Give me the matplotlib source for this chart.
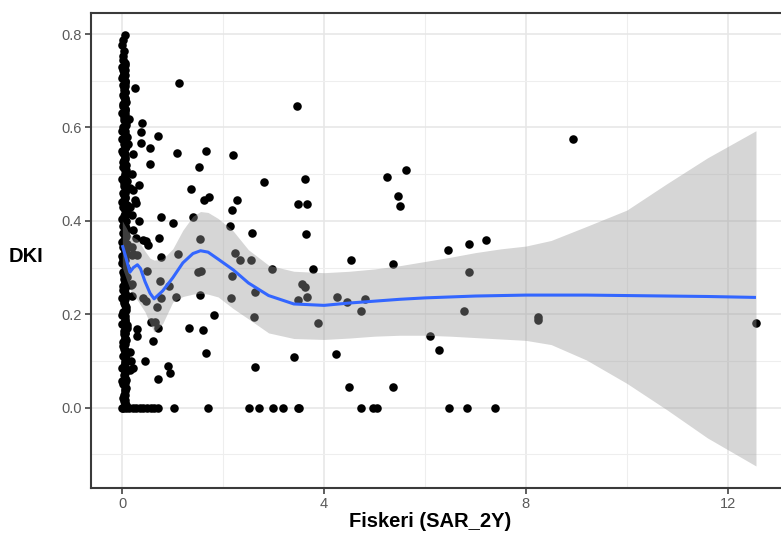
import matplotlib
matplotlib.use("Agg")
import matplotlib.pyplot as plt
from matplotlib.ticker import MultipleLocator

plt.rcParams['font.family'] = ['Liberation Sans', 'DejaVu Sans']

# ---------------- data ----------------
# dense column of observations at Fiskeri ~ 0
col_x = [0.02, 0.06, 0.01, 0.05, 0.02, 0.07, 0.03, 0.00, 0.06, 0.02, 0.08, 0.04, 0.01, 0.06, 0.03,
         0.09, 0.00, 0.05, 0.02, 0.07, 0.03, 0.00, 0.06, 0.02, 0.09, 0.04, 0.01, 0.07, 0.03, 0.00,
         0.06, 0.02, 0.09, 0.04, 0.01, 0.07, 0.03, 0.00, 0.06, 0.02, 0.09, 0.04, 0.01, 0.07, 0.03,
         0.00, 0.06, 0.02, 0.08, 0.04, 0.01, 0.06, 0.03, 0.00, 0.05, 0.02, 0.07, 0.03, 0.00, 0.05,
         0.02, 0.06, 0.01, 0.04, 0.02, 0.05, 0.01, 0.03, 0.00, 0.02, 0.01, 0.03, 0.00, 0.01, 0.05]
col_y = [0.000, 0.010, 0.020, 0.035, 0.050, 0.060, 0.070, 0.085, 0.095, 0.110, 0.115, 0.125, 0.140,
         0.150, 0.165, 0.170, 0.180, 0.190, 0.205, 0.210, 0.225, 0.235, 0.245, 0.260, 0.265, 0.275,
         0.290, 0.300, 0.310, 0.325, 0.335, 0.345, 0.350, 0.360, 0.375, 0.385, 0.395, 0.405, 0.415,
         0.430, 0.435, 0.445, 0.460, 0.470, 0.480, 0.490, 0.500, 0.515, 0.520, 0.530, 0.545, 0.555,
         0.565, 0.575, 0.585, 0.600, 0.605, 0.615, 0.630, 0.640, 0.650, 0.660, 0.670, 0.680, 0.690,
         0.700, 0.710, 0.720, 0.730, 0.745, 0.752, 0.763, 0.776, 0.787, 0.797]
col2_x = [0.07, 0.03, 0.08, 0.00, 0.06, 0.04, 0.08, 0.05, 0.01, 0.07, 0.03, 0.09, 0.05, 0.00, 0.08,
          0.04, 0.07, 0.01, 0.09, 0.04, 0.07, 0.02, 0.09, 0.05, 0.00, 0.08, 0.05, 0.01, 0.08, 0.04,
          0.09, 0.00, 0.06, 0.08, 0.03, 0.10, 0.05, 0.08, 0.02, 0.06, 0.00, 0.08, 0.05, 0.10, 0.00,
          0.08, 0.04, 0.06, 0.01, 0.07, 0.03, 0.06, 0.04, 0.06, 0.00, 0.04, 0.01, 0.06, 0.03, 0.05,
          0.00, 0.04, 0.03, 0.06]
col2_y = [0.005, 0.028, 0.042, 0.056, 0.078, 0.090, 0.104, 0.120, 0.132, 0.145, 0.158, 0.176,
          0.186, 0.198, 0.216, 0.228, 0.240, 0.252, 0.280, 0.284, 0.296, 0.318, 0.330, 0.340,
          0.355, 0.368, 0.380, 0.390, 0.400, 0.410, 0.422, 0.440, 0.452, 0.465, 0.475, 0.486,
          0.495, 0.508, 0.525, 0.537, 0.550, 0.560, 0.570, 0.580, 0.593, 0.612, 0.622, 0.635,
          0.645, 0.655, 0.665, 0.675, 0.686, 0.695, 0.705, 0.715, 0.724, 0.738, 0.015, 0.160,
          0.310, 0.455, 0.590, 0.268]
col3_x = [0.045] * 62
col3_y = [0.004, 0.016, 0.027, 0.040, 0.052, 0.064, 0.075, 0.088, 0.100, 0.112, 0.124, 0.136,
          0.148, 0.160, 0.172, 0.184, 0.196, 0.208, 0.220, 0.232, 0.244, 0.256, 0.268, 0.280,
          0.292, 0.304, 0.316, 0.328, 0.340, 0.352, 0.364, 0.376, 0.388, 0.400, 0.412, 0.424,
          0.436, 0.448, 0.460, 0.472, 0.484, 0.496, 0.508, 0.520, 0.532, 0.544, 0.556, 0.568,
          0.580, 0.592, 0.604, 0.616, 0.628, 0.640, 0.652, 0.664, 0.676, 0.688, 0.700, 0.712,
          0.722, 0.733]

# observations lying on DKI = 0
zero_x = [0.00, 0.07, 0.14, 0.21, 0.28, 0.35, 0.42, 0.49, 0.56, 0.63, 0.70, 1.03, 1.70, 2.51, 2.71,
          2.99, 3.19, 3.48, 3.51, 4.73, 4.96, 5.05, 6.48, 6.84, 7.38]
zero_y = [0.0] * len(zero_x)

# remaining scattered observations
pts_x = [1.13, 0.26, 0.13, 0.40, 0.37, 0.71, 0.12, 0.37, 0.55, 0.21, 1.08, 1.66, 2.20, 0.54, 1.52,
         0.34, 1.36, 1.61, 1.72, 2.28, 2.17, 0.27, 0.76, 1.40, 0.34, 1.01, 2.13, 2.58, 1.54, 0.73,
         0.47, 0.50, 0.27, 2.23, 0.19, 0.29, 0.77, 1.11, 2.33, 2.56, 1.51, 1.56, 0.48, 2.17, 0.75,
         0.19, 0.93, 1.54, 1.06, 0.77, 0.20, 0.42, 0.46, 2.16, 0.69, 1.82, 0.56, 0.65, 0.71, 0.29,
         1.33, 1.59, 0.29, 0.60, 1.66, 0.44, 0.91, 0.95, 0.22, 0.71, 2.63, 2.62, 2.63, 2.97, 3.77,
         3.46, 2.80, 3.62, 3.48, 3.67, 3.65, 4.53, 3.56, 3.62, 3.48, 3.67, 4.26, 4.46, 4.82, 4.73,
         3.87, 3.41, 4.23, 4.50, 5.36, 5.25, 5.62, 5.47, 5.50, 6.46, 6.88, 7.21, 5.36, 6.88, 6.77,
         6.10, 6.28, 8.94, 8.23, 8.23, 12.56,
         0.22, 0.25, 0.15, 0.19, 0.22, 0.42, 0.19, 0.22, 0.17, 0.15, 0.18, 0.15, 0.20, 0.15]
pts_y = [0.696, 0.685, 0.618, 0.610, 0.591, 0.582, 0.565, 0.566, 0.555, 0.543, 0.546, 0.550, 0.540,
         0.522, 0.515, 0.477, 0.468, 0.445, 0.452, 0.444, 0.423, 0.438, 0.408, 0.408, 0.399, 0.396,
         0.389, 0.375, 0.362, 0.363, 0.356, 0.349, 0.363, 0.332, 0.326, 0.327, 0.322, 0.328, 0.316,
         0.316, 0.291, 0.292, 0.292, 0.281, 0.272, 0.264, 0.260, 0.242, 0.236, 0.234, 0.240, 0.234,
         0.228, 0.234, 0.216, 0.198, 0.184, 0.184, 0.170, 0.168, 0.170, 0.166, 0.154, 0.143, 0.116,
         0.100, 0.089, 0.074, 0.085, 0.061, 0.086, 0.195, 0.248, 0.296, 0.296, 0.647, 0.483, 0.489,
         0.437, 0.437, 0.371, 0.316, 0.264, 0.259, 0.231, 0.236, 0.236, 0.227, 0.232, 0.208, 0.182,
         0.108, 0.115, 0.045, 0.045, 0.493, 0.508, 0.454, 0.432, 0.337, 0.350, 0.359, 0.307, 0.291,
         0.208, 0.154, 0.124, 0.575, 0.195, 0.187, 0.181,
         0.466, 0.445, 0.430, 0.413, 0.380, 0.359, 0.345, 0.330, 0.263, 0.080, 0.100, 0.120, 0.500,
         0.470]

# smoother and its confidence band
smooth_x = [0.0, 0.08, 0.15, 0.22, 0.3, 0.36, 0.45, 0.55, 0.63, 0.8, 1.0, 1.2, 1.4, 1.55, 1.7,
            1.9, 2.2, 2.5, 2.9, 3.4, 4.0, 4.5, 5.0, 5.5, 6.0, 6.5, 7.0, 7.5, 8.0, 8.5, 9.2, 10.0,
            10.8, 11.6, 12.56]
smooth_y = [0.348, 0.318, 0.290, 0.300, 0.306, 0.298, 0.270, 0.245, 0.233, 0.250, 0.278, 0.310,
            0.330, 0.336, 0.333, 0.318, 0.295, 0.267, 0.240, 0.222, 0.219, 0.224, 0.228, 0.232,
            0.235, 0.237, 0.239, 0.240, 0.241, 0.241, 0.241, 0.240, 0.239, 0.238, 0.236]
band_hi = [0.400, 0.385, 0.370, 0.365, 0.360, 0.350, 0.335, 0.320, 0.316, 0.318, 0.340, 0.380,
           0.410, 0.420, 0.418, 0.405, 0.378, 0.338, 0.305, 0.292, 0.289, 0.292, 0.297, 0.304,
           0.313, 0.322, 0.332, 0.340, 0.346, 0.358, 0.388, 0.423, 0.480, 0.535, 0.593]
band_lo = [0.300, 0.275, 0.255, 0.240, 0.230, 0.220, 0.205, 0.180, 0.162, 0.180, 0.226, 0.238,
           0.243, 0.245, 0.243, 0.237, 0.212, 0.190, 0.160, 0.148, 0.146, 0.149, 0.153, 0.155,
           0.155, 0.153, 0.150, 0.147, 0.144, 0.135, 0.102, 0.052, -0.005, -0.065, -0.125]

x_ticks = [0, 4, 8, 12]
x_ticklabels = ["0", "4", "8", "12"]
y_ticks = [0.0, 0.2, 0.4, 0.6, 0.8]
y_ticklabels = ["0.0", "0.2", "0.4", "0.6", "0.8"]

# ---------------- figure ----------------
W, H = 781, 533
fig = plt.figure(figsize=(W / 100, H / 100), dpi=100)
fig.patch.set_facecolor("white")
ax = fig.add_axes([91.3 / W, (H - 487.7) / H, (788 - 91.3) / W, (487.7 - 13.3) / H])
ax.set_facecolor("white")

ax.set_xlim(-0.6145, 13.195)
ax.set_ylim(-0.1715, 0.8445)

# grid
ax.set_xticks(x_ticks)
ax.set_xticklabels(x_ticklabels)
ax.set_yticks(y_ticks)
ax.set_yticklabels(y_ticklabels)
ax.xaxis.set_minor_locator(MultipleLocator(2))
ax.yaxis.set_minor_locator(MultipleLocator(0.1))
ax.grid(which="major", color="#e6e6e6", linewidth=1.1, zorder=0)
ax.grid(which="minor", color="#eeeeee", linewidth=0.8, zorder=0)
ax.set_axisbelow(True)

ax.tick_params(which="minor", length=0)
ax.tick_params(which="major", length=4, width=1.1, color="#333333", pad=3,
               labelsize=10.5, labelcolor="#5a5a5a")

for side in ["left", "bottom", "top", "right"]:
    ax.spines[side].set_color("#3a3a3a")
    ax.spines[side].set_linewidth(1.5)

# points
ms = 38
ax.scatter(col_x, col_y, s=ms, color="black", linewidths=0, zorder=2)
ax.scatter(col2_x, col2_y, s=ms, color="black", linewidths=0, zorder=2)
ax.scatter(col3_x, col3_y, s=ms, color="black", linewidths=0, zorder=2)
ax.scatter(zero_x, zero_y, s=ms, color="black", linewidths=0, zorder=2)
ax.scatter(pts_x, pts_y, s=ms, color="black", linewidths=0, zorder=2)

# smoother
ax.fill_between(smooth_x, band_lo, band_hi, color="#999999", alpha=0.4, linewidth=0, zorder=3)
ax.plot(smooth_x, smooth_y, color="#3366FF", linewidth=2.2, zorder=4, solid_capstyle="butt")

# labels
fig.text(26 / W, 1 - 256 / H, "DKI", ha="center", va="center", fontsize=14.5,
         fontweight="bold", color="black")
fig.text(430 / W, 6 / H, "Fiskeri (SAR_2Y)", ha="center", va="baseline", fontsize=14.5,
         fontweight="bold", color="black")

fig.savefig("out.png", dpi=100, facecolor="white")
